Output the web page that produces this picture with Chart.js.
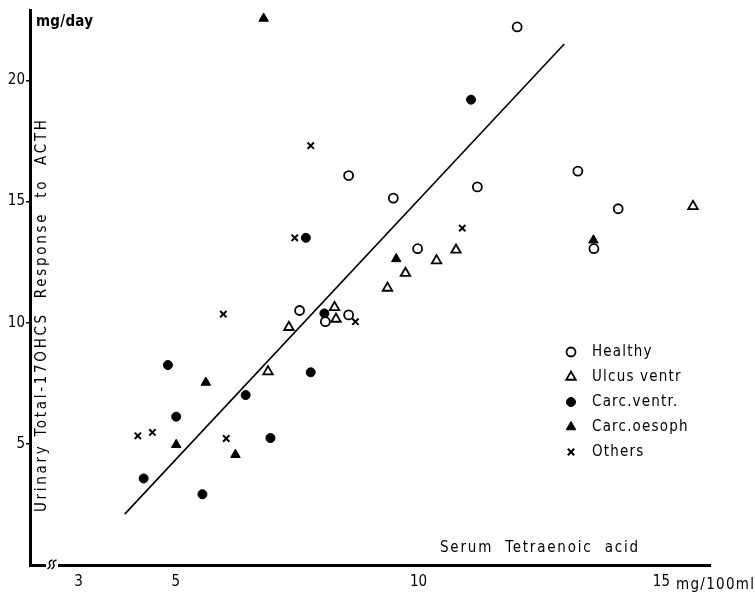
<!DOCTYPE html>
<html>
<head>
<meta charset="utf-8">
<script src="https://cdn.jsdelivr.net/npm/chart.js"></script>
<style>
  body { margin: 0; background: #fff; }
</style>
</head>
<body>
<canvas id="myChart" width="755" height="596"></canvas>
<script>
// data (serum tetraenoic acid mg/100ml -> urinary 17OHCS mg/day)
const healthyX = [12.03, 8.56, 9.48, 11.21, 13.28, 14.11, 13.61, 9.98, 7.55, 8.08, 8.56];
const healthyY = [22.2, 16.07, 15.14, 15.6, 16.25, 14.7, 13.05, 13.05, 10.5, 10.04, 10.32];

const ulcusX = [10.77, 10.37, 9.73, 9.36, 8.27, 8.30, 7.33, 6.90, 15.65];
const ulcusY = [13.0, 12.56, 12.04, 11.43, 10.63, 10.15, 9.81, 7.98, 14.8];

const ventrX = [11.08, 7.68, 8.06, 7.78, 4.84, 5.01, 6.44, 6.95, 4.34, 5.55];
const ventrY = [19.2, 13.5, 10.38, 7.95, 8.25, 6.12, 7.01, 5.24, 3.57, 2.92];

const oesophX = [6.81, 9.54, 13.6, 5.62, 5.01, 6.23];
const oesophY = [22.55, 12.63, 13.4, 7.53, 4.96, 4.55];

const othersX = [7.78, 7.45, 10.9, 5.98, 8.70, 4.22, 4.52, 6.04];
const othersY = [17.3, 13.5, 13.9, 10.35, 10.04, 5.33, 5.47, 5.22];

// regression line end points
const fitX = [3.95, 13.0];
const fitY = [2.1, 21.5];

const xTicks = [3, 5, 10, 15];
const yTicks = [5, 10, 15, 20];

const FONT = '"DejaVu Sans Condensed", "DejaVu Sans", sans-serif';

const pts = (xs, ys) => xs.map((x, i) => ({ x: x, y: ys[i] }));

// setup
const data = {
  datasets: [
    {
      label: "Healthy",
      data: pts(healthyX, healthyY),
      pointStyle: "circle",
      pointRadius: 4.5,
      pointBorderWidth: 1.8,
      backgroundColor: "#fff",
      borderColor: "#000",
    },
    {
      label: "Ulcus ventr",
      data: pts(ulcusX, ulcusY),
      pointStyle: "triangle",
      pointRadius: 5.5,
      pointBorderWidth: 1.8,
      backgroundColor: "#fff",
      borderColor: "#000",
    },
    {
      label: "Carc.ventr.",
      data: pts(ventrX, ventrY),
      pointStyle: "circle",
      pointRadius: 4.5,
      pointBorderWidth: 1,
      backgroundColor: "#000",
      borderColor: "#000",
    },
    {
      label: "Carc.oesoph",
      data: pts(oesophX, oesophY),
      pointStyle: "triangle",
      pointRadius: 5.5,
      pointBorderWidth: 1,
      backgroundColor: "#000",
      borderColor: "#000",
    },
    {
      label: "Others",
      data: pts(othersX, othersY),
      pointStyle: "crossRot",
      pointRadius: 4.5,
      pointBorderWidth: 2,
      backgroundColor: "#000",
      borderColor: "#000",
    },
    {
      label: "fit",
      type: "line",
      data: pts(fitX, fitY),
      showLine: true,
      pointRadius: 0,
      borderWidth: 1.6,
      borderColor: "#000",
      fill: false,
    },
  ],
};

// text, legend and axis break drawn on top
const spaced = (ctx, text, x, y, width) => {
  ctx.letterSpacing = "0px";
  const w = ctx.measureText(text).width;
  const sp = Math.max(0, (width - w) / (text.length - 1));
  ctx.letterSpacing = sp + "px";
  ctx.fillText(text, x, y);
  ctx.letterSpacing = "0px";
};

const decor = {
  id: "decor",
  afterDraw(chart) {
    const ctx = chart.ctx;
    const area = chart.chartArea;
    ctx.save();
    ctx.fillStyle = "#000";
    ctx.textBaseline = "middle";
    ctx.textAlign = "left";

    // axis break
    ctx.fillStyle = "#fff";
    ctx.fillRect(46, area.bottom - 4, 12, 8);
    ctx.strokeStyle = "#000";
    ctx.lineWidth = 1.5;
    [47.5, 51.5].forEach((x0) => {
      ctx.beginPath();
      ctx.moveTo(x0, area.bottom + 4);
      ctx.quadraticCurveTo(x0 + 4, area.bottom + 1, x0 + 2, area.bottom - 1);
      ctx.quadraticCurveTo(x0 + 1, area.bottom - 4, x0 + 5, area.bottom - 5);
      ctx.stroke();
    });
    ctx.fillStyle = "#000";

    // units and axis titles
    ctx.font = "bold 15px " + FONT;
    spaced(ctx, "mg/day", 36, 22, 57);
    ctx.font = "15px " + FONT;
    spaced(ctx, "Serum  Tetraenoic  acid", 440, 548, 198);
    spaced(ctx, "mg/100ml", 676, 585, 78);

    ctx.save();
    ctx.translate(42, 316);
    ctx.rotate(-Math.PI / 2);
    spaced(ctx, "Urinary Total-17OHCS  Response  to  ACTH", -196, 0, 392);
    ctx.restore();

    // legend
    const rowY = [352, 377, 402, 427, 452];
    chart.data.datasets.slice(0, 5).forEach((ds, i) => {
      ctx.fillStyle = ds.backgroundColor;
      ctx.strokeStyle = ds.borderColor;
      ctx.lineWidth = ds.pointBorderWidth;
      Chart.helpers.drawPoint(ctx, {
        pointStyle: ds.pointStyle,
        radius: ds.pointRadius,
        borderWidth: ds.pointBorderWidth,
        rotation: 0,
      }, 571, rowY[i]);
      ctx.fillStyle = "#000";
      ctx.font = "15px " + FONT;
      ctx.letterSpacing = "1.2px";
      ctx.fillText(ds.label, 592, rowY[i]);
      ctx.letterSpacing = "0px";
    });
    ctx.restore();
  },
};

// config
const config = {
  type: "scatter",
  data,
  options: {
    responsive: false,
    animation: false,
    clip: false,
    layout: { padding: { top: 6, right: 45, left: 0, bottom: 0 } },
    plugins: {
      legend: { display: false },
      tooltip: { enabled: false },
    },
    scales: {
      x: {
        type: "linear",
        min: 2,
        max: 16,
        afterFit: (s) => { s.height = 31; },
        afterBuildTicks: (s) => { s.ticks = xTicks.map((v) => ({ value: v })); },
        grid: { display: false },
        border: { display: true, color: "#000", width: 3 },
        ticks: {
          color: "#000",
          font: { family: FONT, size: 15 },
          padding: 0,
          maxRotation: 0,
          callback: (v) => String(v),
        },
      },
      y: {
        type: "linear",
        min: 0,
        max: 22.9,
        afterFit: (s) => { s.width = 30; },
        afterBuildTicks: (s) => { s.ticks = yTicks.map((v) => ({ value: v })); },
        grid: { display: true, drawOnChartArea: false, drawTicks: true, tickLength: 4, color: "#000", lineWidth: 1.5 },
        border: { display: true, color: "#000", width: 3 },
        ticks: {
          color: "#000",
          font: { family: FONT, size: 15 },
          padding: 1,
          callback: (v) => String(v),
        },
      },
    },
  },
  plugins: [decor],
};

// render init block
const myChart = new Chart(document.getElementById("myChart"), config);
</script>
</body>
</html>
